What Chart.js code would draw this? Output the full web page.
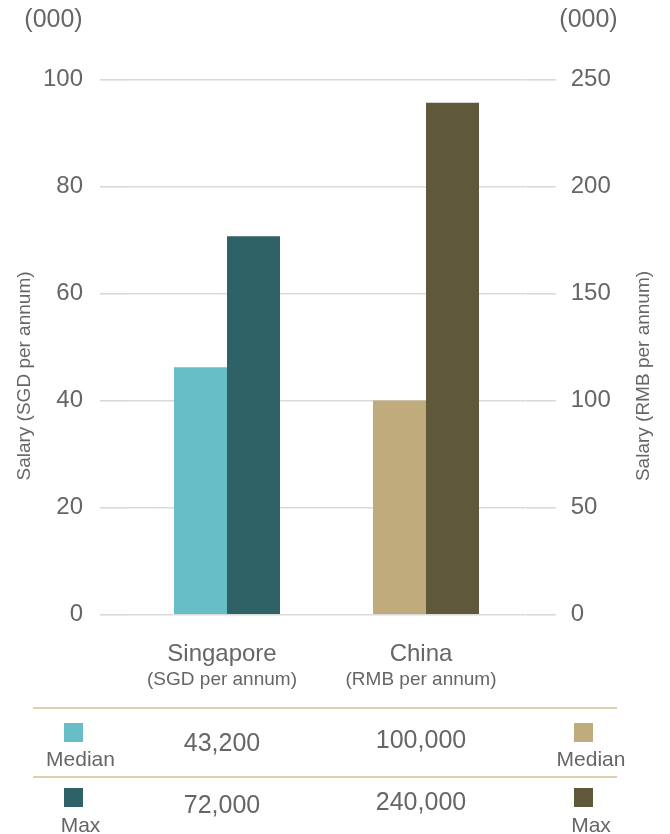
<!DOCTYPE html>
<html>
<head>
<meta charset="utf-8">
<script src="https://cdn.jsdelivr.net/npm/chart.js@4.4.1/dist/chart.umd.min.js"></script>
<style>
  html, body { margin: 0; padding: 0; background: #ffffff; }
  #wrap { position: relative; width: 670px; height: 834px; }
</style>
</head>
<body>
<div id="wrap"><canvas id="c" width="670" height="834"></canvas></div>
<script>
// ---- data (thousands) ----
const categories = ['Singapore', 'China'];
const categoryUnits = ['(SGD per annum)', '(RMB per annum)'];
const seriesNames = ['Median', 'Max'];
const singaporeValues = [46.2, 70.7];   // SGD (000), left axis
const chinaValues = [100, 239];         // RMB (000), right axis
const medianLabels = ['43,200', '100,000'];
const maxLabels = ['72,000', '240,000'];
const leftAxisTitle = 'Salary (SGD per annum)';
const rightAxisTitle = 'Salary (RMB per annum)';
const unitLabel = '(000)';
const leftMax = 100, leftStep = 20;
const rightMax = 250, rightStep = 50;

const sgColors = ['#67bec6', '#2e6266'];
const cnColors = ['#c0ab7c', '#5f583b'];
const TEXT = '#666666';
const FONT = '"Liberation Sans", Arial, Helvetica, sans-serif';

const datasets = [
  { label: 'Singapore ' + seriesNames[0], data: [singaporeValues[0], null], backgroundColor: sgColors[0], yAxisID: 'y' },
  { label: 'Singapore ' + seriesNames[1], data: [singaporeValues[1], null], backgroundColor: sgColors[1], yAxisID: 'y' },
  { label: 'China ' + seriesNames[0], data: [null, chinaValues[0]], backgroundColor: cnColors[0], yAxisID: 'y1' },
  { label: 'China ' + seriesNames[1], data: [null, chinaValues[1]], backgroundColor: cnColors[1], yAxisID: 'y1' }
];

const decor = {
  id: 'decor',
  afterDraw(chart) {
    const ctx = chart.ctx;
    const xs = chart.scales.x, ys = chart.scales.y;
    const midY = (ys.top + ys.bottom) / 2 + 29;
    ctx.save();
    ctx.fillStyle = TEXT;
    // unit labels
    ctx.font = '25px ' + FONT;
    ctx.textAlign = 'center'; ctx.textBaseline = 'middle';
    ctx.fillText(unitLabel, 53.5, 20);
    ctx.fillText(unitLabel, 588.5, 20);
    // axis titles
    ctx.font = '19px ' + FONT;
    ctx.save(); ctx.translate(25, midY); ctx.rotate(-Math.PI / 2);
    ctx.fillText(leftAxisTitle, 0, 0); ctx.restore();
    ctx.save(); ctx.translate(644, midY); ctx.rotate(-Math.PI / 2);
    ctx.fillText(rightAxisTitle, 0, 0); ctx.restore();
    // category labels
    ctx.textBaseline = 'alphabetic';
    categories.forEach((c, i) => {
      const x = xs.getPixelForValue(i) - 5;
      ctx.font = '24px ' + FONT;
      ctx.fillText(c, x, 661);
      ctx.font = '19px ' + FONT;
      ctx.fillText(categoryUnits[i], x, 685);
    });
    // table lines
    ctx.strokeStyle = '#ddd0ae'; ctx.lineWidth = 2;
    [708, 777].forEach(y => { ctx.beginPath(); ctx.moveTo(33, y); ctx.lineTo(617, y); ctx.stroke(); });
    // swatches + legend labels
    const rowsY = [723, 788];
    const textY = [766, 832];
    seriesNames.forEach((s, r) => {
      ctx.fillStyle = sgColors[r]; ctx.fillRect(64, rowsY[r], 19, 19);
      ctx.fillStyle = cnColors[r]; ctx.fillRect(574, rowsY[r], 19, 19);
      ctx.fillStyle = TEXT; ctx.font = '21px ' + FONT;
      ctx.fillText(s, 80.5, textY[r]);
      ctx.fillText(s, 591, textY[r]);
    });
    // values
    ctx.font = '25px ' + FONT;
    const valY = [[751, 748], [813, 810]];
    categories.forEach((c, i) => {
      const x = xs.getPixelForValue(i) - 5;
      ctx.fillText(medianLabels[i], x, valY[0][i]);
      ctx.fillText(maxLabels[i], x, valY[1][i]);
    });
    ctx.restore();
  }
};

new Chart(document.getElementById('c'), {
  type: 'bar',
  data: { labels: categories, datasets },
  options: {
    responsive: false,
    animation: false,
    layout: { padding: { top: 79.3, left: 0, right: 0, bottom: 0 } },
    plugins: { legend: { display: false }, tooltip: { enabled: false }, title: { display: false } },
    datasets: { bar: { skipNull: true, categoryPercentage: 0.5327, barPercentage: 1.0, borderWidth: 0 } },
    scales: {
      x: {
        grid: { display: false }, border: { display: false },
        ticks: { display: false },
        afterFit(s) { s.height = 219.3; }
      },
      y: {
        position: 'left', min: 0, max: leftMax,
        border: { display: false },
        grid: { color: '#d9d9d9', lineWidth: 1.6, drawTicks: true, tickLength: 27.5, tickColor: '#d9d9d9' },
        ticks: { stepSize: leftStep, padding: 17, color: TEXT, font: { family: FONT, size: 24 } },
        afterFit(s) { s.width = 127.5; }
      },
      y1: {
        position: 'right', min: 0, max: rightMax,
        border: { display: false },
        grid: { drawOnChartArea: false, color: '#d9d9d9', lineWidth: 1.6, drawTicks: true, tickLength: 30.2, tickColor: '#d9d9d9' },
        ticks: { stepSize: rightStep, padding: 15, color: TEXT, font: { family: FONT, size: 24 } },
        afterFit(s) { s.width = 144.5; }
      }
    }
  },
  plugins: [decor]
});
</script>
</body>
</html>
